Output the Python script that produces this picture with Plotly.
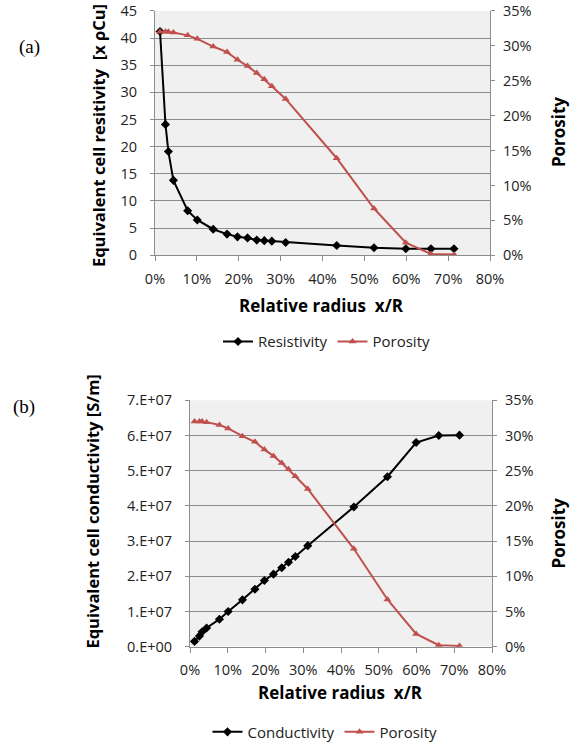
import plotly.graph_objects as go

# ---------------- data ----------------
radius = [0.012, 0.025, 0.032, 0.044, 0.078, 0.101, 0.139, 0.172, 0.197, 0.221,
          0.243, 0.261, 0.279, 0.312, 0.434, 0.523, 0.599, 0.659, 0.714]
resistivity = [41.2, 24.1, 19.1, 13.8, 8.2, 6.5, 4.8, 3.9, 3.4, 3.2,
               2.8, 2.7, 2.6, 2.35, 1.8, 1.4, 1.2, 1.2, 1.2]
porosity = [0.320, 0.320, 0.320, 0.319, 0.315, 0.310, 0.299, 0.291, 0.280, 0.271,
            0.261, 0.252, 0.242, 0.224, 0.139, 0.067, 0.018, 0.002, 0.001]
conductivity = [0.15e7, 0.30e7, 0.42e7, 0.53e7, 0.78e7, 1.00e7, 1.33e7, 1.63e7, 1.88e7, 2.06e7,
                2.24e7, 2.40e7, 2.56e7, 2.87e7, 3.97e7, 4.83e7, 5.80e7, 6.00e7, 6.01e7]

res_ticks = [0, 5, 10, 15, 20, 25, 30, 35, 40, 45]
por_ticks = [0, 0.05, 0.10, 0.15, 0.20, 0.25, 0.30, 0.35]
x_ticks = [0, 0.1, 0.2, 0.3, 0.4, 0.5, 0.6, 0.7, 0.8]
cond_ticks = [0, 1e7, 2e7, 3e7, 4e7, 5e7, 6e7, 7e7]
cond_labels = ["0.E+00", "1.E+07", "2.E+07", "3.E+07", "4.E+07", "5.E+07", "6.E+07", "7.E+07"]

W, H = 579, 749
BLACK = "#000000"
RED = "#c0504d"
GRID = "#8c8c8c"
AX = "#8c8c8c"
BG = "#f0f0f0"
FONT = "Open Sans"
NB = "\u00a0"


def px(x):
    return x / W


def py(y):
    return 1 - y / H


fig = go.Figure()

# ---- chart (a)
fig.add_trace(go.Scatter(x=radius, y=resistivity, name="Resistivity", mode="lines+markers",
                         line=dict(color=BLACK, width=2),
                         marker=dict(symbol="diamond", size=7, color=BLACK),
                         xaxis="x", yaxis="y", legend="legend"))
fig.add_trace(go.Scatter(x=radius, y=porosity, name="Porosity", mode="lines+markers",
                         line=dict(color=RED, width=2),
                         marker=dict(symbol="triangle-up", size=7, color=RED),
                         xaxis="x", yaxis="y2", legend="legend"))
# ---- chart (b)
fig.add_trace(go.Scatter(x=radius, y=conductivity, name="Conductivity", mode="lines+markers",
                         line=dict(color=BLACK, width=2),
                         marker=dict(symbol="diamond", size=7, color=BLACK),
                         xaxis="x2", yaxis="y3", legend="legend2"))
fig.add_trace(go.Scatter(x=radius, y=porosity, name="Porosity", mode="lines+markers",
                         line=dict(color=RED, width=2),
                         marker=dict(symbol="triangle-up", size=7, color=RED),
                         xaxis="x2", yaxis="y4", legend="legend2"))

tickfont = dict(family=FONT, size=14.5, color="#222222")

common_x = dict(range=[0, 0.8], tickvals=x_ticks, tickformat=".0%", showgrid=False,
                showline=True, linecolor=AX, linewidth=1, ticks="outside", ticklen=5,
                tickcolor=AX, tickfont=tickfont, zeroline=False, automargin=False,
                ticklabelstandoff=5)
common_yl = dict(showgrid=True, gridcolor=GRID, gridwidth=1, showline=True, linecolor=AX,
                 ticks="outside", ticklen=4, tickcolor=AX, tickfont=tickfont, zeroline=False,
                 automargin=False, ticklabelstandoff=10)
common_yr = dict(range=[0, 0.35], tickvals=por_ticks, tickformat=".0%", showgrid=False,
                 showline=True, linecolor=AX, ticks="outside", ticklen=4, tickcolor=AX,
                 tickfont=tickfont, zeroline=False, automargin=False, ticklabelstandoff=5,
                 side="right")

fig.update_layout(
    width=W, height=H,
    margin=dict(l=0, r=0, t=0, b=0),
    paper_bgcolor="white", plot_bgcolor=BG,
    showlegend=True,
    xaxis=dict(domain=[px(155), px(490)], anchor="y", **common_x),
    yaxis=dict(domain=[py(257), py(11)], anchor="x", range=[0, 45], tickvals=res_ticks, **common_yl),
    yaxis2=dict(overlaying="y", anchor="x", **common_yr),
    xaxis2=dict(domain=[px(190), px(492)], anchor="y3", **common_x),
    yaxis3=dict(domain=[py(651), py(403)], anchor="x2", range=[0, 7e7], tickvals=cond_ticks,
                ticktext=cond_labels, **common_yl),
    yaxis4=dict(overlaying="y3", anchor="x2", **common_yr),
    legend=dict(orientation="h", x=px(327), y=py(344), xanchor="center", yanchor="middle",
                font=dict(family=FONT, size=15, color="#222222"), bgcolor="rgba(0,0,0,0)",
                tracegroupgap=0),
    legend2=dict(orientation="h", x=px(325), y=py(737), xanchor="center", yanchor="middle",
                 font=dict(family=FONT, size=15, color="#222222"), bgcolor="rgba(0,0,0,0)",
                 tracegroupgap=0),
)

ttl = dict(family=FONT, size=16.5, color="#000000", weight="bold")
ttl_big = dict(family=FONT, size=17, color="#000000", weight="bold")
annos = [
    dict(text="(a)", x=px(30), y=py(47), font=dict(family="Liberation Serif", size=19, color="#000")),
    dict(text="(b)", x=px(24), y=py(410), font=dict(family="Liberation Serif", size=19, color="#000")),
    dict(text="Relative radius" + NB + NB + "x/R", x=px(321), y=py(308), font=ttl_big),
    dict(text="Relative radius" + NB + NB + "x/R", x=px(340), y=py(697), font=ttl_big),
    dict(text="Equivalent cell resitivity" + NB + NB + "[x ρCu]", x=px(98), y=py(137),
         textangle=-90, font=ttl),
    dict(text="Equivalent cell conductivity [S/m]", x=px(93), y=py(515), textangle=-90, font=ttl),
    dict(text="Porosity", x=px(558), y=py(133), textangle=-90, font=ttl_big),
    dict(text="Porosity", x=px(558), y=py(537), textangle=-90, font=ttl_big),
]
for a in annos:
    a.update(xref="paper", yref="paper", showarrow=False, xanchor="center", yanchor="middle")
fig.update_layout(annotations=annos)

fig.write_html("out.html", post_script="document.body.style.margin='0';",
               config={"displayModeBar": False})
